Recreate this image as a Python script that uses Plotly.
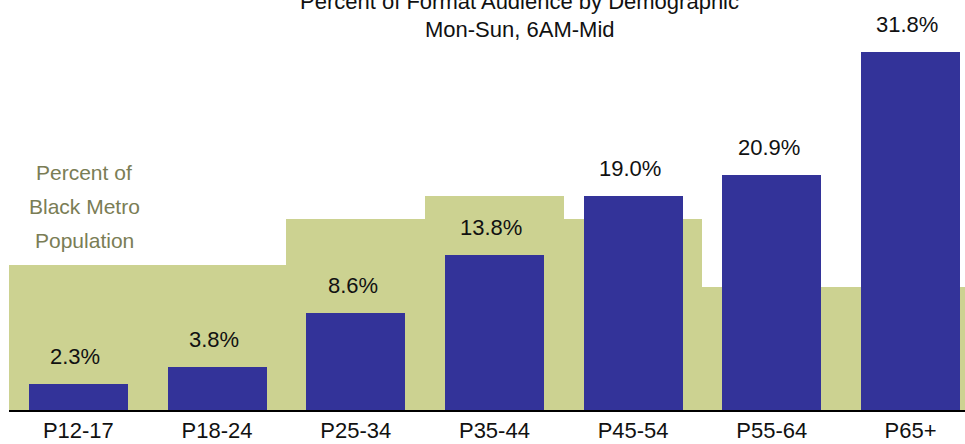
import plotly.graph_objects as go

categories = ["P12-17", "P18-24", "P25-34", "P35-44", "P45-54", "P55-64", "P65+"]
audience_pct = [2.3, 3.8, 8.6, 13.8, 19.0, 20.9, 31.8]
population_pct = [12.9, 12.9, 17.0, 19.0, 17.0, 10.9, 10.9]
label_text = [f"{v:.1f}%" for v in audience_pct]
population_label_lines = ["Percent of", "Black Metro", "Population"]

FONT = "Liberation Sans, Arial, sans-serif"
GREEN = "#CCD291"
BLUE = "#333399"
OLIVE = "#7A7D55"
DARK = "#111111"

xs = list(range(len(categories)))

fig = go.Figure()
fig.add_trace(go.Bar(x=xs, y=population_pct, width=1.0, marker=dict(color=GREEN, line=dict(width=0)),
                     hoverinfo="skip", showlegend=False))
fig.add_trace(go.Bar(x=xs, y=audience_pct, width=0.714, marker=dict(color=BLUE, line=dict(width=0)),
                     showlegend=False))

annotations = []
for x, v, t in zip(xs, audience_pct, label_text):
    annotations.append(dict(x=x, y=v, xref="x", yref="y", text=t, showarrow=False,
                            yanchor="bottom", yshift=13, xshift=-3,
                            font=dict(family=FONT, size=22, color=DARK)))

for i, line in enumerate(population_label_lines):
    annotations.append(dict(x=0.041, y=18.1, xref="x", yref="y", text=line, showarrow=False,
                            yanchor="middle", xanchor="center", yshift=34 * (1 - i),
                            font=dict(family=FONT, size=21, color=OLIVE)))

annotations.append(dict(x=0.5345, y=1.038, xref="paper", yref="paper",
                        text="Percent of Format Audience by Demographic", showarrow=False,
                        yanchor="middle", font=dict(family=FONT, size=22, color=DARK)))
annotations.append(dict(x=0.5345, y=0.967, xref="paper", yref="paper",
                        text="Mon-Sun, 6AM-Mid", showarrow=False,
                        yanchor="middle", font=dict(family=FONT, size=22, color=DARK)))

fig.update_layout(
    width=965, height=444,
    margin=dict(l=9, r=0, t=16, b=34, autoexpand=False),
    barmode="overlay", bargap=0,
    plot_bgcolor="white", paper_bgcolor="white",
    annotations=annotations,
    xaxis=dict(range=[-0.5, 6.393], tickmode="array", tickvals=xs, ticktext=categories,
               automargin=False,
               showgrid=False, zeroline=False, showline=True, linecolor="black", linewidth=2,
               ticks="", tickfont=dict(family=FONT, size=22, color=DARK)),
    yaxis=dict(range=[0, 35], automargin=False, showgrid=False, zeroline=False,
               showticklabels=False, showline=False),
)

fig.write_html("out.html", config={"displayModeBar": False},
               post_script="document.body.style.margin='0';document.body.style.overflow='hidden';")
